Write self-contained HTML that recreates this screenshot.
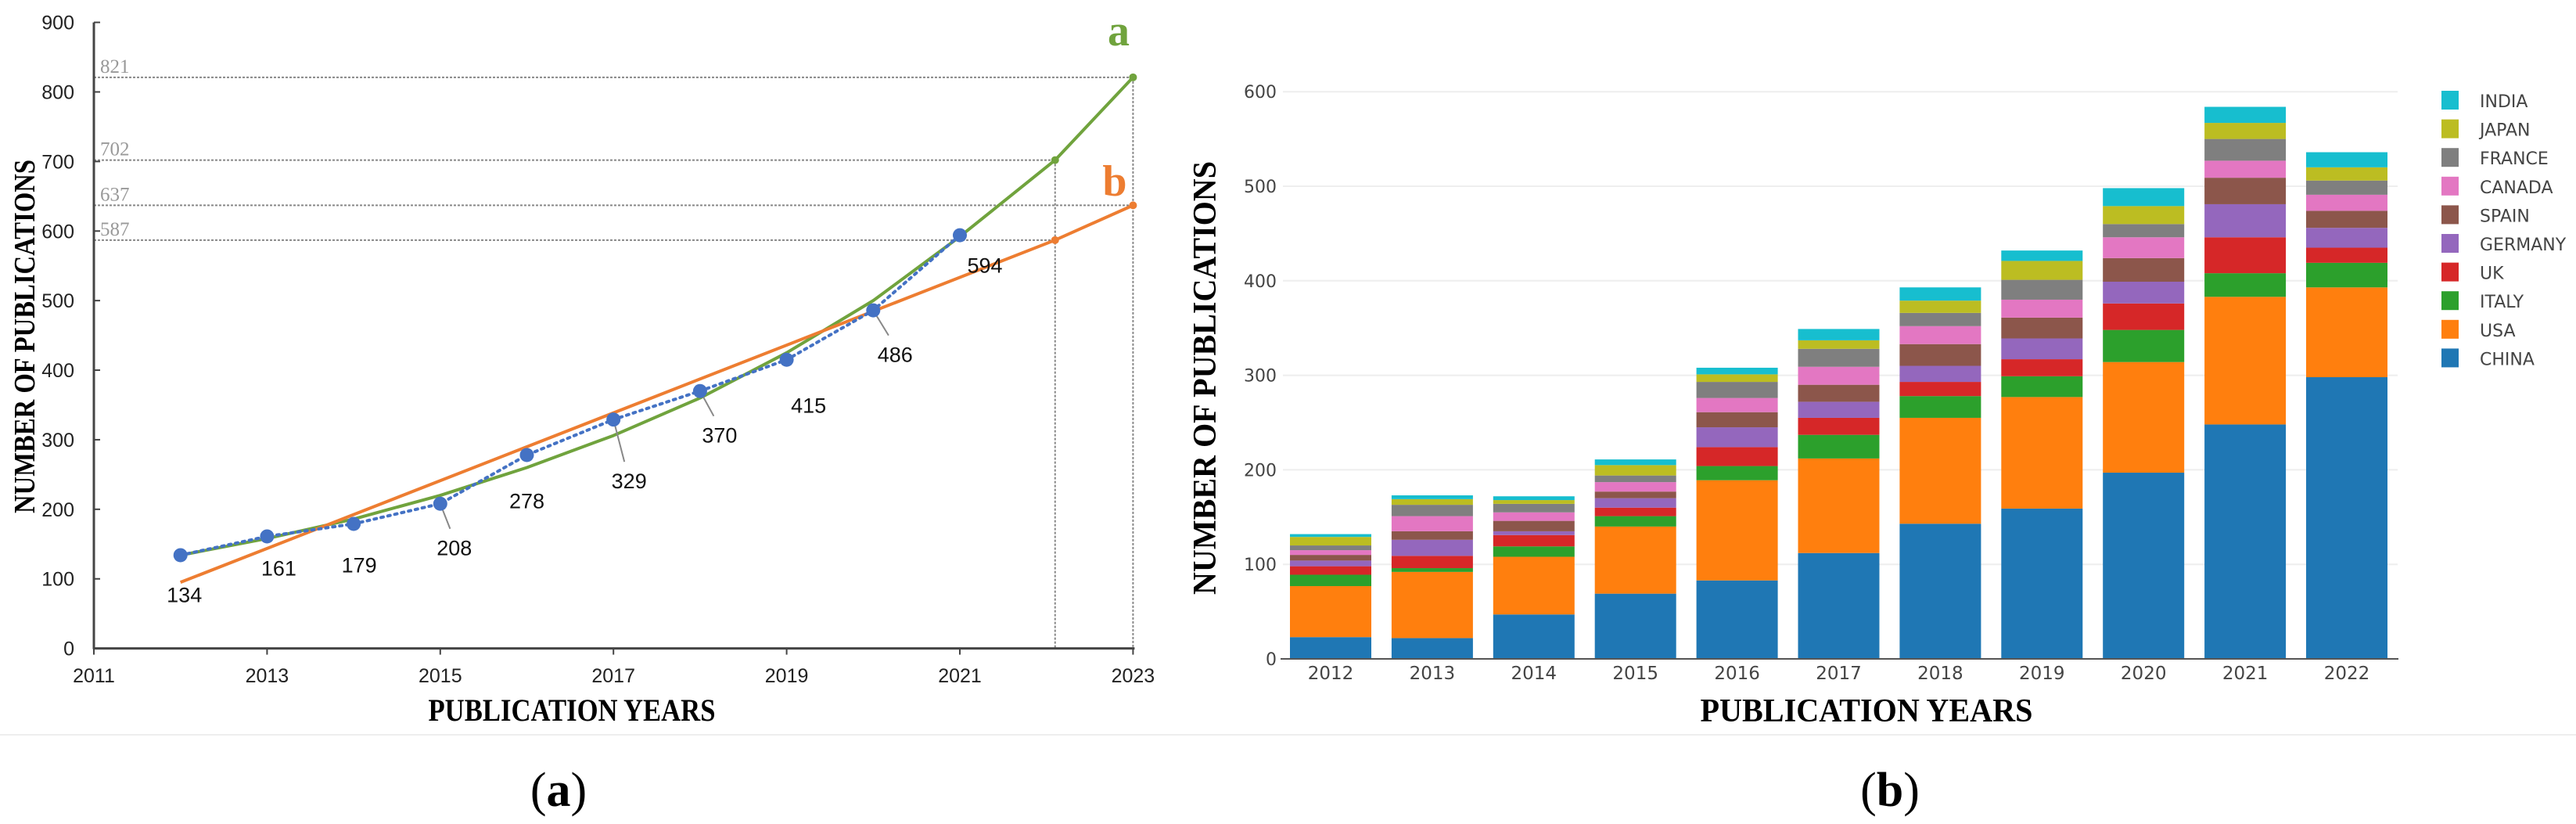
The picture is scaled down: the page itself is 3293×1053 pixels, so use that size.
<!DOCTYPE html>
<html><head><meta charset="utf-8"><style>
html,body{margin:0;padding:0;background:#fff;}
svg{display:block;}
</style></head><body>
<svg id="fig" width="3293" height="1053" viewBox="0 0 3293 1053" xmlns="http://www.w3.org/2000/svg">
<line x1="0" y1="939" x2="3293" y2="939" stroke="#eee" stroke-width="2"/>
<g id="chartA"></g>
<g id="chartB"></g>
<text x="714" y="1030" font-family="Liberation Serif, serif" font-size="62" text-anchor="middle">(<tspan font-weight="bold">a</tspan>)</text>
<text x="2416" y="1030" font-family="Liberation Serif, serif" font-size="62" text-anchor="middle">(<tspan font-weight="bold">b</tspan>)</text>
</svg>
<script>
const NS='http://www.w3.org/2000/svg';
// ---- Chart A data ----
const aYears=[2012,2013,2014,2015,2016,2017,2018,2019,2020,2021];
const aCounts=[134,161,179,208,278,329,370,415,486,594];
const fitYears=[2012,2013,2014,2015,2016,2017,2018,2019,2020,2021,2022.1,2023];
const fitA=[134,158,186,220,260,306,360,425,500,592,702,821];
const linYears=[2012,2022.1,2023];
const linB=[95,587,637];
const refValues=[821,702,637,587];
const refYears=[2023,2022.1,2023,2022.1];
const aYTicks=[0,100,200,300,400,500,600,700,800,900];
const aXTicks=[2011,2013,2015,2017,2019,2021,2023];
// ---- Chart B data ----
const bYears=['2012','2013','2014','2015','2016','2017','2018','2019','2020','2021','2022'];
const countries=['CHINA','USA','ITALY','UK','GERMANY','SPAIN','CANADA','FRANCE','JAPAN','INDIA'];
const china  =[23,22,47,69,83,112,143,159,197,248,298];
const usa    =[54,70,61,71,106,100,112,118,117,135,95];
const italy  =[12,4,11,11,15,25,23,22,34,25,26];
const uk     =[9,13,12,9,20,18,15,18,28,38,16];
const germany=[6,17,4,10,21,17,17,22,23,35,21];
const spain  =[6,9,11,7,16,18,23,22,25,28,18];
const canada =[5,16,9,10,15,19,19,19,22,18,17];
const france =[5,12,9,7,17,19,14,21,14,23,15];
const japan  =[9,6,4,11,8,9,13,20,19,17,14];
const india  =[3,4,4,6,7,12,14,11,19,17,16];
const bYTicks=[0,100,200,300,400,500,600];

function el(tag,attrs,parent,text){const e=document.createElementNS(NS,tag);for(const k in attrs)e.setAttribute(k,attrs[k]);if(text!==undefined)e.textContent=text;parent.appendChild(e);return e;}

// ===== Chart A =====
const A=document.getElementById('chartA');
const ax=y=>120+(y-2011)*110.7;
const ay=v=>828.6-v*0.8889;
const sans='Liberation Sans, sans-serif', serif='Liberation Serif, serif';
// ref lines
refValues.forEach((v,i)=>{
  const l=el('line',{x1:120,y1:ay(v),x2:ax(refYears[i]),y2:ay(v),stroke:'#888','stroke-width':2,'stroke-dasharray':'3,2'},A);
  
  
  const t=el('text',{x:128,y:ay(v)-6,'font-family':serif,'font-size':25,fill:'#999'},A,String(v));
  
  
});
[2022.1,2023].forEach(y=>{
  const l=el('line',{x1:ax(y),y1:ay(y===2023?821:702),x2:ax(y),y2:ay(0),stroke:'#888','stroke-width':2,'stroke-dasharray':'3,2'},A);
  
  
});
// axes
let g=el('line',{x1:120,y1:ay(900),x2:120,y2:ay(0)+1,stroke:'#444','stroke-width':3},A);

g=el('line',{x1:120,y1:ay(0),x2:ax(2023)+2,y2:ay(0),stroke:'#444','stroke-width':3},A);

aYTicks.forEach(v=>{
  el('line',{x1:120,y1:ay(v),x2:128,y2:ay(v),stroke:'#444','stroke-width':2},A);
  const t=el('text',{x:95,y:ay(v)+9,'text-anchor':'end','font-family':sans,'font-size':25,fill:'#222'},A,String(v));
  
  
});
aXTicks.forEach(y=>{
  el('line',{x1:ax(y),y1:ay(0),x2:ax(y),y2:ay(0)+8,stroke:'#444','stroke-width':2},A);
  const t=el('text',{x:ax(y),y:872,'text-anchor':'middle','font-family':sans,'font-size':25,fill:'#222'},A,String(y));
  
  
});
// fits
let p=el('polyline',{points:fitYears.map((y,i)=>ax(y)+','+ay(fitA[i])).join(' '),fill:'none',stroke:'#70a33d','stroke-width':4,'stroke-linejoin':'round'},A);

p=el('polyline',{points:linYears.map((y,i)=>ax(y)+','+ay(linB[i])).join(' '),fill:'none',stroke:'#ed7d31','stroke-width':4},A);

[[2022.1,702,'#70a33d'],[2023,821,'#70a33d'],[2022.1,587,'#ed7d31'],[2023,637,'#ed7d31']].forEach(d=>{
  const c=el('circle',{cx:ax(d[0]),cy:ay(d[1]),r:5,fill:d[2]},A);
  
  
});
// data dotted line
p=el('polyline',{points:aYears.map((y,i)=>ax(y)+','+ay(aCounts[i])).join(' '),fill:'none',stroke:'#4472c4','stroke-width':4,'stroke-dasharray':'3,6','stroke-linecap':'round'},A);

const labOff=[[5,50],[15,40],[7,52],[18,56],[0,58],[20,78],[25,56],[28,58],[28,56],[32,38]];
aYears.forEach((y,i)=>{
  const cx=ax(y),cy=ay(aCounts[i]);
  if([3,5,6,8].includes(i)){el('line',{x1:cx,y1:cy,x2:cx+labOff[i][0]*0.7,y2:cy+labOff[i][1]-24,stroke:'#888','stroke-width':2},A);}
  const c=el('circle',{cx:cx,cy:cy,r:9,fill:'#4472c4'},A);
  
  
  const t=el('text',{x:cx+labOff[i][0],y:cy+labOff[i][1]+10,'text-anchor':'middle','font-family':sans,'font-size':27,fill:'#111'},A,String(aCounts[i]));
  
  
});
let t=el('text',{x:1430,y:58,'text-anchor':'middle','font-family':serif,'font-size':56,'font-weight':'bold',fill:'#70a33d'},A,'a');

t=el('text',{x:1425,y:250,'text-anchor':'middle','font-family':serif,'font-size':56,'font-weight':'bold',fill:'#ed7d31'},A,'b');

t=el('text',{x:0,y:0,transform:'translate(44,430) rotate(-90)','text-anchor':'middle','font-family':serif,'font-size':38,'font-weight':'bold',textLength:452,lengthAdjust:'spacingAndGlyphs'},A,'NUMBER OF PUBLICATIONS');

t=el('text',{x:731,y:921,'text-anchor':'middle','font-family':serif,'font-size':40,'font-weight':'bold',textLength:367,lengthAdjust:'spacingAndGlyphs'},A,'PUBLICATION YEARS');


// ===== Chart B =====
const B=document.getElementById('chartB');
const series=[china,usa,italy,uk,germany,spain,canada,france,japan,india];
const colors=['#1f77b4','#ff7f0e','#2ca02c','#d62728','#9467bd','#8c564b','#e377c2','#7f7f7f','#bcbd22','#17becf'];
const by=v=>842-v*1.208;
const bx=i=>1649+i*129.9;
bYTicks.forEach(v=>{
  if(v>0){const l=el('line',{x1:1640,y1:by(v),x2:3065,y2:by(v),stroke:'#eeeeee','stroke-width':2},B);
  }
  const tt=el('text',{x:1632,y:by(v)+8,'text-anchor':'end','font-family':'DejaVu Sans, sans-serif','font-size':22,fill:'#444'},B,String(v));
  
  
});
bYears.forEach((yr,i)=>{
  let base=0;
  series.forEach((s,k)=>{
    const r=el('rect',{x:bx(i),y:by(base+s[i]),width:104,height:s[i]*1.208,fill:colors[k]},B);
    
    
    base+=s[i];
  });
  const tt=el('text',{x:bx(i)+52,y:868,'text-anchor':'middle','font-family':'DejaVu Sans, sans-serif','font-size':23,fill:'#444'},B,yr);
  
  
});
g=el('line',{x1:1637,y1:842,x2:3066,y2:842,stroke:'#555','stroke-width':2},B);

countries.slice().reverse().forEach((c,j)=>{
  const k=countries.length-1-j;
  const r=el('rect',{x:3121,y:116+j*36.6,width:22,height:24,fill:colors[k]},B);
  
  
  const tt=el('text',{x:3170,y:137+j*36.6,'font-family':'DejaVu Sans, sans-serif','font-size':22,fill:'#444'},B,c);
  
  
});
t=el('text',{x:0,y:0,transform:'translate(1554,483) rotate(-90)','text-anchor':'middle','font-family':serif,'font-size':42,'font-weight':'bold',textLength:554,lengthAdjust:'spacingAndGlyphs'},B,'NUMBER OF PUBLICATIONS');

t=el('text',{x:2386,y:922,'text-anchor':'middle','font-family':serif,'font-size':42,'font-weight':'bold',textLength:425,lengthAdjust:'spacingAndGlyphs'},B,'PUBLICATION YEARS');

</script>
</body></html>
